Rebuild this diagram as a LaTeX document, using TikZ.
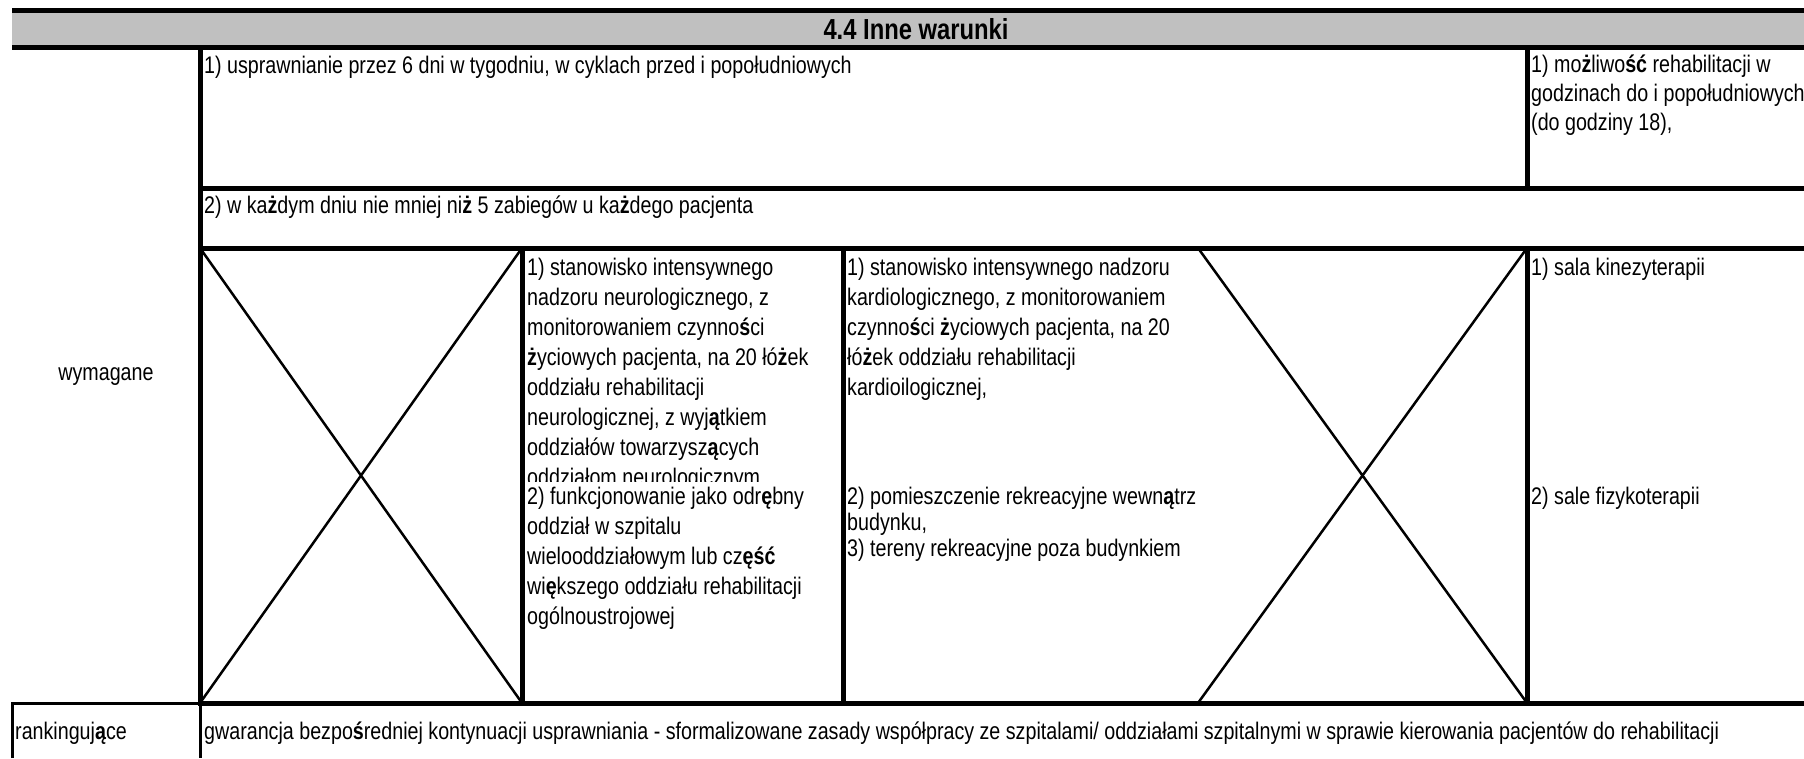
\documentclass[tikz,border=0pt]{standalone}
\usepackage{fontspec}
\setmainfont{Liberation Sans}[FakeStretch=0.82]
\definecolor{headgray}{HTML}{C0C0C0}
\newcommand\Pl[1]{\textbf{#1}}
\newcommand\cellfont{\fontsize{24}{30}\selectfont}
\newcommand\Cross[2]{
\coordinate (aux1) at (#1,248);
\coordinate (aux2) at (#2,703);
\draw[cross]
  (aux1) -- (aux2)
  (aux1|-aux2) -- (aux2|-aux1);
\draw[rule]
  (aux2|-aux1) -- (aux2);
}

\begin{document}
\begin{tikzpicture}[x=1pt,y=-1pt,
  rule/.style={line width=5pt},
  thinrule/.style={line width=3pt},
  cross/.style={line width=2.5pt},
  cell/.style={anchor=north west,inner sep=0pt,align=left,font=\cellfont}]
\useasboundingbox (0,0) rectangle (1804,758);
\clip (0,0) rectangle (1804,758);
\fill[headgray]
  (12,12) rectangle (1804,46);
\draw[rule]
  (12,10.5) -- (1804,10.5)
  (12,47.5) -- (1804,47.5);
\node[anchor=base,inner sep=0pt,font=\fontsize{29}{34}\selectfont\bfseries] (title) at (916,39) {4.4 Inne warunki};
\draw[rule]
  (200,48) -- (200,703) -- (1804,703)
  (200,188) -- (1804,188)
  (1527,48) -- (1527,188)
  (200,248) -- (1804,248)
  (843,248) -- (843,703);
\draw[thinrule]
  (12,758) -- (12,703) -- (200,703) -- (200,758);
\Cross{200}{522}
\Cross{1198}{1527}
\node[cell] (r1) at (204,52) {\strut 1) usprawnianie przez 6 dni w tygodniu, w cyklach przed i popołudniowych};
\node[cell,font=\fontsize{24}{29}\selectfont] (r1b) at (1531,52) {\strut 1) mo\Pl{ż}liwo\Pl{ść} rehabilitacji w\\ godzinach do i popołudniowych\\ (do godziny 18),};
\node[cell] (r2) at (204,192) {\strut 2) w ka\Pl{ż}dym dniu nie mniej ni\Pl{ż} 5 zabiegów u ka\Pl{ż}dego pacjenta};
\node[inner sep=0pt,font=\cellfont] (req) at (106,377) {wymagane};
\begin{scope}
\clip
  (522,248) rectangle (843,481);
\node[cell] (neuro1) at (527,254) {\strut 1) stanowisko intensywnego\\ nadzoru neurologicznego, z\\ monitorowaniem czynno\Pl{ś}ci\\ \Pl{ż}yciowych pacjenta, na 20 łó\Pl{ż}ek\\ oddziału rehabilitacji\\ neurologicznej, z wyj\Pl{ą}tkiem\\ oddziałów towarzysz\Pl{ą}cych\\ oddziałom neurologicznym};
\end{scope}
\node[cell] (neuro2) at (527,483) {\strut 2) funkcjonowanie jako odr\Pl{ę}bny\\ oddział w szpitalu\\ wielooddziałowym lub cz\Pl{ęść}\\ wi\Pl{ę}kszego oddziału rehabilitacji\\ ogólnoustrojowej};
\node[cell] (kardio1) at (847,254) {\strut 1) stanowisko intensywnego nadzoru\\ kardiologicznego, z monitorowaniem\\ czynno\Pl{ś}ci \Pl{ż}yciowych pacjenta, na 20\\ łó\Pl{ż}ek oddziału rehabilitacji\\ kardioilogicznej,};
\node[cell,font=\fontsize{24}{26}\selectfont] (kardio2) at (847,486) {\strut 2) pomieszczenie rekreacyjne wewn\Pl{ą}trz\\ budynku,\\ 3) tereny rekreacyjne poza budynkiem};
\node[cell] (sala1) at (1531,254) {\strut 1) sala kinezyterapii};
\node[cell] (sala2) at (1531,483) {\strut 2) sale fizykoterapii};
\node[cell] (rank) at (15,718) {\strut rankinguj\Pl{ą}ce};
\node[cell] (rank2) at (204,718) {\strut gwarancja bezpo\Pl{ś}redniej kontynuacji usprawniania - sformalizowane zasady współpracy ze szpitalami/ oddziałami szpitalnymi w sprawie kierowania pacjentów do rehabilitacji};
\end{tikzpicture}
\end{document}
